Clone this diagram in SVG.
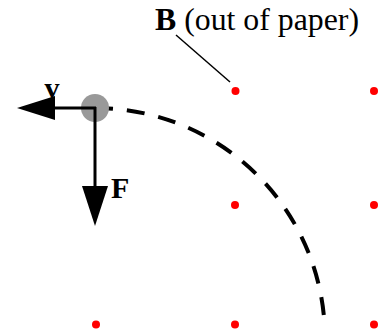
<svg xmlns="http://www.w3.org/2000/svg" width="386" height="335" viewBox="0 0 386 335">
<defs>
<style>
.dot{fill:#ff0000}
.lbl{font-family:"Liberation Serif","Times New Roman",serif;fill:#000}
.b{font-weight:bold}
</style>
</defs>
<rect width="386" height="335" fill="#fff"/>
<g id="field">
<circle class="dot" cx="235.5" cy="91" r="4"/>
<circle class="dot" cx="374" cy="91" r="4"/>
<circle class="dot" cx="235" cy="205" r="4"/>
<circle class="dot" cx="374" cy="205" r="4"/>
<circle class="dot" cx="96" cy="324.5" r="4"/>
<circle class="dot" cx="235" cy="324.5" r="4"/>
<circle class="dot" cx="374" cy="324.5" r="4"/>
</g>
<g id="label">
<text class="lbl" x="155" y="30" font-size="31" textLength="204" lengthAdjust="spacingAndGlyphs"><tspan class="b">B</tspan> (out of paper)</text>
<line x1="176" y1="35" x2="230" y2="82" stroke="#000" stroke-width="1.5"/>
</g>
<g id="path">
<path d="M95,108 A230,230 0 0 1 324.4,322" fill="none" stroke="#000" stroke-width="4" stroke-dasharray="18,14"/>
</g>
<g id="ball">
<circle cx="95" cy="108" r="14" fill="#999"/>
</g>
<g id="connectors">
<g id="v-arrow">
<line x1="96" y1="108" x2="50" y2="108" stroke="#000" stroke-width="3"/>
<polygon points="17,108 55,96 55,120" fill="#000"/>
<text class="lbl b" x="52" y="98" font-size="30" text-anchor="middle">v</text>
</g>
<g id="F-arrow">
<line x1="95" y1="107" x2="95" y2="190" stroke="#000" stroke-width="3"/>
<polygon points="95,226 82,186 108,186" fill="#000"/>
<text class="lbl b" x="111" y="198" font-size="30">F</text>
</g>
</g>
</svg>
